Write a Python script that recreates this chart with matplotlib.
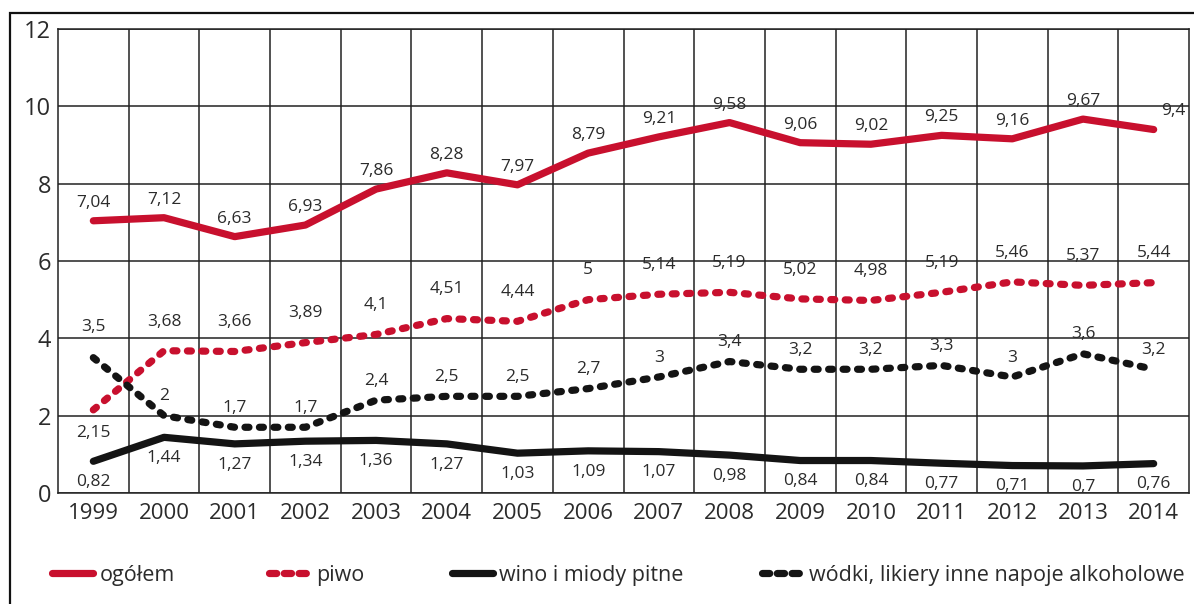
import matplotlib
matplotlib.use("Agg")
import matplotlib.pyplot as plt
from matplotlib.lines import Line2D
from matplotlib.patches import Rectangle

years = ["1999", "2000", "2001", "2002", "2003", "2004", "2005", "2006",
         "2007", "2008", "2009", "2010", "2011", "2012", "2013", "2014"]
ogolem = [7.04, 7.12, 6.63, 6.93, 7.86, 8.28, 7.97, 8.79, 9.21, 9.58, 9.06, 9.02, 9.25, 9.16, 9.67, 9.4]
piwo = [2.15, 3.68, 3.66, 3.89, 4.1, 4.51, 4.44, 5, 5.14, 5.19, 5.02, 4.98, 5.19, 5.46, 5.37, 5.44]
wino = [0.82, 1.44, 1.27, 1.34, 1.36, 1.27, 1.03, 1.09, 1.07, 0.98, 0.84, 0.84, 0.77, 0.71, 0.7, 0.76]
wodki = [3.5, 2, 1.7, 1.7, 2.4, 2.5, 2.5, 2.7, 3, 3.4, 3.2, 3.2, 3.3, 3, 3.6, 3.2]
series_names = ["ogółem", "piwo", "wino i miody pitne", "wódki, likiery inne napoje alkoholowe"]
y_ticks = [0, 2, 4, 6, 8, 10, 12]

RED = "#c8102e"
BLK = "#141414"
TXT = "#2b2b2b"
FONT = "Open Sans"
plt.rcParams["font.family"] = [FONT, "DejaVu Sans"]

fig = plt.figure(figsize=(11.94, 6.04), dpi=100)
ax = fig.add_axes([58 / 1194, 1 - 493 / 604, (1189 - 58) / 1194, (493 - 29) / 604])

x = list(range(len(years)))
lw = 5.2
dash = (0.55, 1.45)
ax.plot(x, ogolem, color=RED, lw=lw, solid_capstyle="round", solid_joinstyle="round", zorder=5)
ax.plot(x, piwo, color=RED, lw=lw, linestyle=(0, dash), dash_capstyle="round", zorder=5)
ax.plot(x, wino, color=BLK, lw=lw, solid_capstyle="round", solid_joinstyle="round", zorder=5)
ax.plot(x, wodki, color=BLK, lw=lw, linestyle=(0, dash), dash_capstyle="round", zorder=5)

ax.set_xlim(-0.5, len(years) - 0.5)
ax.set_ylim(0, 12)
ax.set_yticks(y_ticks)
ax.set_yticklabels([str(v) for v in y_ticks])
ax.set_xticks(x)
ax.set_xticklabels(years)
ax.set_xticks([i + 0.5 for i in range(len(years) - 1)], minor=True)
ax.tick_params(axis="both", which="both", length=0, labelcolor=TXT)
ax.tick_params(axis="x", pad=7, labelsize=16)
ax.tick_params(axis="y", pad=5, labelsize=17)
ax.grid(True, which="minor", axis="x", color="#222222", lw=1.1)
ax.grid(True, which="major", axis="y", color="#222222", lw=1.1)
for s in ax.spines.values():
    s.set_color("#222222")
    s.set_linewidth(1.1)


def fmt(v):
    return ("%g" % v).replace(".", ",")


def lab(i, v, dy, dx=0):
    ax.annotate(fmt(v), (i, v), xytext=(dx, dy), textcoords="offset points",
                ha="center", va="center", fontsize=12.5, color=TXT, zorder=6)


for i, v in enumerate(ogolem):
    lab(i, v, 13, 14 if i == len(years) - 1 else 0)
for i, v in enumerate(piwo):
    if i == 0:
        lab(i, v, -17)
    else:
        lab(i, v, 21)
for i, v in enumerate(wino):
    lab(i, v, -15)
for i, v in enumerate(wodki):
    lab(i, v, 22 if i == 0 else 14)

dots = (0, (1.0, 1.05))
handles = [
    Line2D([], [], color=RED, lw=lw, solid_capstyle="round"),
    Line2D([], [], color=RED, lw=lw, linestyle=dots, dash_capstyle="round"),
    Line2D([], [], color=BLK, lw=lw, solid_capstyle="round"),
    Line2D([], [], color=BLK, lw=lw, linestyle=dots, dash_capstyle="round"),
]
legend_x = [52, 269, 452, 762]
for h, name, lx in zip(handles, series_names, legend_x):
    fig.legend([h], [name], loc="center left", bbox_to_anchor=(lx / 1194, 1 - 575 / 604),
               frameon=False, fontsize=15.5, handlelength=1.9, handletextpad=0.3,
               labelcolor=TXT, borderaxespad=0, borderpad=0)

fig.patches.append(Rectangle((10 / 1194, -0.1), 1.2, 1 - 13 / 604 + 0.1, transform=fig.transFigure,
                             fill=False, edgecolor="#111111", lw=1.6, clip_on=False))

fig.savefig("out.png", dpi=100)
